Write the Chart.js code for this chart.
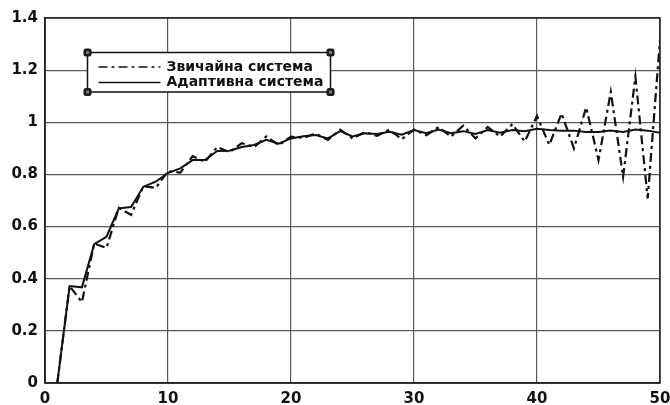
<!DOCTYPE html>
<html>
<head>
<meta charset="utf-8">
<script src="https://cdn.jsdelivr.net/npm/chart.js@4/dist/chart.umd.min.js"></script>
<style>
  html, body { margin: 0; padding: 0; background: #fff; }
  #wrap { width: 670px; height: 405px; }
</style>
</head>
<body>
<div id="wrap"><canvas id="c" width="670" height="405"></canvas></div>
<script>
// ---- data ----
const steps = [1,2,3,4,5,6,7,8,9,10,11,12,13,14,15,16,17,18,19,20,21,22,23,24,25,26,27,28,29,30,31,32,33,34,35,36,37,38,39,40,41,42,43,44,45,46,47,48,49,50];
const ordinarySystem = [0.000,0.372,0.310,0.535,0.518,0.672,0.645,0.755,0.748,0.812,0.807,0.870,0.848,0.905,0.885,0.920,0.905,0.946,0.912,0.945,0.940,0.957,0.932,0.972,0.938,0.962,0.948,0.972,0.935,0.972,0.950,0.982,0.945,0.987,0.938,0.982,0.945,0.993,0.926,1.024,0.913,1.034,0.900,1.057,0.855,1.117,0.791,1.175,0.708,1.316];
const adaptiveSystem = [0.000,0.372,0.367,0.533,0.561,0.670,0.675,0.753,0.772,0.806,0.823,0.855,0.855,0.890,0.891,0.905,0.913,0.933,0.918,0.938,0.946,0.951,0.938,0.966,0.946,0.958,0.955,0.964,0.952,0.970,0.958,0.972,0.958,0.966,0.955,0.970,0.960,0.970,0.966,0.975,0.970,0.968,0.968,0.963,0.963,0.968,0.963,0.972,0.968,0.960];
const seriesLabels = ['Звичайна система', 'Адаптивна система'];
const xTickLabels = ['0','10','20','30','40','50'];
const yTickLabels = ['0','0.2','0.4','0.6','0.8','1','1.2','1.4'];

const toPoints = (ys) => steps.map((x, i) => ({ x: x, y: ys[i] }));

const tickFont = { family: 'DejaVu Sans', size: 15, weight: 'bold' };

const legendPlugin = {
  id: 'boxLegend',
  afterDatasetsDraw(chart) {
    const ctx = chart.ctx;
    const area = chart.chartArea;
    const bx = area.left + 42.5, by = area.top + 34.5, bw = 243, bh = 39.5;
    ctx.save();
    ctx.fillStyle = '#fff';
    ctx.fillRect(bx, by, bw, bh);
    ctx.strokeStyle = '#111';
    ctx.lineWidth = 1.5;
    ctx.strokeRect(bx, by, bw, bh);
    // corner handles
    const hs = 8;
    [[bx, by], [bx + bw, by], [bx, by + bh], [bx + bw, by + bh]].forEach(([hx, hy]) => {
      ctx.fillStyle = '#1a1a1a';
      ctx.beginPath();
      if (ctx.roundRect) ctx.roundRect(hx - hs / 2, hy - hs / 2, hs, hs, 2.5); else ctx.rect(hx - hs / 2, hy - hs / 2, hs, hs);
      ctx.fill();
      ctx.fillStyle = '#777';
      ctx.fillRect(hx - 1.5, hy - 1.5, 3, 3);
    });
    // entries
    ctx.font = 'bold 14px "DejaVu Sans"';
    ctx.textBaseline = 'middle';
    ctx.textAlign = 'left';
    chart.data.datasets.forEach((ds, i) => {
      const ly = by + 14.5 + i * 15.5;
      ctx.strokeStyle = ds.borderColor;
      ctx.lineWidth = 1.6;
      ctx.setLineDash(ds.borderDash || []);
      ctx.beginPath();
      ctx.moveTo(bx + 11, ly);
      ctx.lineTo(bx + 73, ly);
      ctx.stroke();
      ctx.setLineDash([]);
      ctx.fillStyle = '#111';
      ctx.fillText(ds.label, bx + 79, ly);
    });
    ctx.restore();
  }
};

new Chart(document.getElementById('c'), {
  type: 'line',
  data: {
    datasets: [
      {
        label: seriesLabels[0],
        data: toPoints(ordinarySystem),
        borderColor: '#111',
        borderWidth: 2.2,
        borderDash: [9, 4, 3, 4],
        pointRadius: 0,
        tension: 0,
        fill: false
      },
      {
        label: seriesLabels[1],
        data: toPoints(adaptiveSystem),
        borderColor: '#111',
        borderWidth: 2,
        pointRadius: 0,
        tension: 0,
        fill: false
      }
    ]
  },
  options: {
    responsive: false,
    animation: false,
    events: [],
    layout: { autoPadding: false, padding: { top: 18, right: 10, left: 0, bottom: 0 } },
    plugins: { legend: { display: false }, tooltip: { enabled: false } },
    scales: {
      x: {
        type: 'linear',
        min: 0, max: 50,
        afterFit: (s) => { s.height = 22; s.paddingLeft = 0; s.paddingRight = 0; },
        ticks: {
          stepSize: 10,
          padding: 7,
          color: '#111',
          font: tickFont,
          maxRotation: 0,
          callback: (v) => xTickLabels[Math.round(v / 10)]
        },
        grid: { color: '#5a5a5a', lineWidth: 1.2, drawTicks: false },
        border: { color: '#222', width: 1.5 }
      },
      y: {
        min: 0, max: 1.4,
        afterFit: (s) => { s.width = 45; s.paddingTop = 0; s.paddingBottom = 0; },
        ticks: {
          stepSize: 0.2,
          padding: 7,
          color: '#111',
          font: tickFont,
          callback: (v) => yTickLabels[Math.round(v / 0.2)]
        },
        grid: { color: '#5a5a5a', lineWidth: 1.2, drawTicks: false },
        border: { color: '#222', width: 1.5 }
      }
    }
  },
  plugins: [legendPlugin, {
    id: 'frame',
    afterDraw(chart) {
      const a = chart.chartArea, ctx = chart.ctx;
      ctx.save();
      ctx.strokeStyle = '#222';
      ctx.lineWidth = 1.5;
      ctx.strokeRect(a.left, a.top, a.right - a.left, a.bottom - a.top);
      ctx.restore();
    }
  }]
});
</script>
</body>
</html>
